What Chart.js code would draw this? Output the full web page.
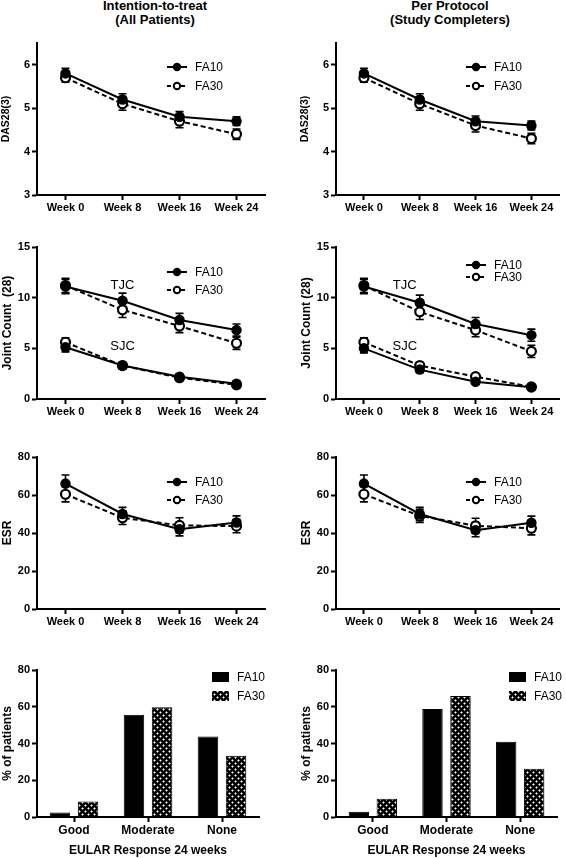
<!DOCTYPE html>
<html>
<head>
<meta charset="utf-8">
<script src="https://cdn.jsdelivr.net/npm/chart.js@4.4.0/dist/chart.umd.min.js"></script>
<style>
  body { margin: 0; background: #fff; }
  #page { position: relative; width: 566px; height: 858px; overflow: hidden; font-family: "Liberation Sans", Arial, sans-serif; }
  .head { position: absolute; width: 220px; text-align: center; font-weight: bold; font-size: 13px; line-height: 14px; top: -1px; }
  canvas { position: absolute; }
</style>
</head>
<body>
<div id="page">
  <div class="head" style="left:45px">Intention-to-treat<br>(All Patients)</div>
  <div class="head" style="left:340px">Per Protocol<br>(Study Completers)</div>
  <canvas id="dasItt" width="283" height="200" style="left:0;top:30px"></canvas>
  <canvas id="dasPp" width="283" height="200" style="left:283px;top:30px"></canvas>
  <canvas id="jointItt" width="283" height="195" style="left:0;top:230px"></canvas>
  <canvas id="jointPp" width="283" height="195" style="left:283px;top:230px"></canvas>
  <canvas id="esrItt" width="283" height="200" style="left:0;top:430px"></canvas>
  <canvas id="esrPp" width="283" height="200" style="left:283px;top:430px"></canvas>
  <canvas id="eularItt" width="283" height="228" style="left:0;top:630px"></canvas>
  <canvas id="eularPp" width="283" height="228" style="left:283px;top:630px"></canvas>
</div>
<script>
// ---- data ----
const weeks = ['Week 0', 'Week 8', 'Week 16', 'Week 24'];
const groups = ['FA10', 'FA30'];
const responses = ['Good', 'Moderate', 'None'];

const dasTicks = [3, 4, 5, 6];
const jointTicks = [0, 5, 10, 15];
const esrTicks = [0, 20, 40, 60, 80];
const pctTicks = [0, 20, 40, 60, 80];

// DAS28(3)
const dasIttFA10 = [5.8, 5.2, 4.8, 4.7];
const dasIttFA10Err = [0.12, 0.13, 0.12, 0.1];
const dasIttFA30 = [5.7, 5.1, 4.7, 4.4];
const dasIttFA30Err = [0.1, 0.15, 0.15, 0.12];
const dasPpFA10 = [5.8, 5.2, 4.7, 4.6];
const dasPpFA10Err = [0.12, 0.13, 0.12, 0.1];
const dasPpFA30 = [5.7, 5.1, 4.6, 4.3];
const dasPpFA30Err = [0.1, 0.15, 0.15, 0.12];

// Joint count (28)
const tjcIttFA10 = [11.1, 9.7, 7.8, 6.8];
const tjcIttFA30 = [11.2, 8.8, 7.2, 5.5];
const sjcIttFA10 = [5.1, 3.3, 2.2, 1.5];
const sjcIttFA30 = [5.6, 3.3, 2.1, 1.4];
const tjcPpFA10 = [11.1, 9.5, 7.4, 6.3];
const tjcPpFA30 = [11.2, 8.6, 6.8, 4.7];
const sjcPpFA10 = [5.0, 2.9, 1.7, 1.15];
const sjcPpFA30 = [5.6, 3.3, 2.2, 1.2];
const tjcErr = [0.7, 0.75, 0.65, 0.6];
const sjcErr = [0.45, 0.3, 0.25, 0.25];
const jointLabels = ['TJC', 'SJC'];
const jointLabelValues = [11.2, 5.2];

// ESR
const esrIttFA10 = [66, 50, 42, 45.5];
const esrIttFA30 = [60.4, 48, 44, 43.6];
const esrPpFA10 = [66, 50, 41.5, 45.4];
const esrPpFA30 = [60.4, 49, 43.8, 42.5];
const esrFA10Err = [4.5, 3.5, 3.5, 3.5];
const esrFA30Err = [4, 3.5, 4, 3.5];

// EULAR response at 24 weeks (% of patients)
const eularIttFA10 = [2.4, 55.6, 43.8];
const eularIttFA30 = [8.5, 59.7, 33.3];
const eularPpFA10 = [2.9, 58.8, 40.9];
const eularPpFA30 = [9.9, 65.8, 26.3];

// ---- shared ----
const FONT = '"Liberation Sans", Arial, Helvetica, sans-serif';
Chart.defaults.font.family = FONT;
Chart.defaults.color = '#000';
Chart.defaults.animation = false;

// black fill with small white dots, as in the FA30 bars
const dotPattern = (() => {
    const c = document.createElement('canvas');
    c.width = 6; c.height = 6;
    const g = c.getContext('2d');
    g.fillStyle = '#000';
    g.fillRect(0, 0, 6, 6);
    [[1, 1], [4, 4]].forEach(([x, y]) => {
        g.fillStyle = '#888';
        g.fillRect(x - 1, y, 3, 1);
        g.fillRect(x, y - 1, 1, 3);
        g.fillStyle = '#fff';
        g.fillRect(x, y, 1, 1);
    });
    return g.createPattern(c, 'repeat');
})();

// draws mean +/- error whiskers
const errorBars = {
    id: 'errorBars',
    beforeDatasetsDraw(chart) {
        const { ctx } = chart;
        const y = chart.scales.y;
        chart.data.datasets.forEach((ds, i) => {
            if (!ds.errors) return;
            const meta = chart.getDatasetMeta(i);
            ctx.save();
            ctx.strokeStyle = '#000';
            ctx.lineWidth = 1.6;
            meta.data.forEach((pt, j) => {
                const v = ds.data[j], e = ds.errors[j];
                const yt = y.getPixelForValue(v + e), yb = y.getPixelForValue(v - e);
                ctx.beginPath();
                ctx.moveTo(pt.x, yt); ctx.lineTo(pt.x, yb);
                ctx.moveTo(pt.x - 4, yt); ctx.lineTo(pt.x + 4, yt);
                ctx.moveTo(pt.x - 4, yb); ctx.lineTo(pt.x + 4, yb);
                ctx.stroke();
            });
            ctx.restore();
        });
    }
};

// legend inside plot: line + marker + label
const lineKey = {
    id: 'lineKey',
    afterDraw(chart, args, opts) {
        if (!opts.items) return;
        const { ctx, chartArea } = chart;
        opts.items.forEach((dsIndex, k) => {
            const ds = chart.data.datasets[dsIndex];
            const x = chartArea.left + opts.dx;
            const y = chartArea.top + opts.dy + k * opts.gap;
            ctx.save();
            ctx.strokeStyle = '#000';
            ctx.lineWidth = 2;
            ctx.setLineDash(ds.borderDash ? [4, 3] : []);
            ctx.beginPath();
            ctx.moveTo(x - 2, y); ctx.lineTo(x + 18, y);
            ctx.stroke();
            ctx.setLineDash([]);
            ctx.beginPath();
            ctx.arc(x + 8, y, 3.2, 0, Math.PI * 2);
            ctx.fillStyle = ds.pointBackgroundColor;
            ctx.fill();
            ctx.stroke();
            ctx.fillStyle = '#000';
            ctx.font = '12px ' + FONT;
            ctx.textBaseline = 'middle';
            ctx.fillText(ds.label, x + 26, y + 0.5);
            ctx.restore();
        });
    }
};

// legend inside plot: filled box + label
const boxKey = {
    id: 'boxKey',
    afterDraw(chart, args, opts) {
        if (opts.dx === undefined) return;
        const { ctx, chartArea } = chart;
        chart.data.datasets.forEach((ds, k) => {
            const x = chartArea.left + opts.dx;
            const y = chartArea.top + opts.dy + k * opts.gap;
            ctx.save();
            ctx.fillStyle = ds.backgroundColor;
            ctx.fillRect(x, y, 17, 10);
            ctx.fillStyle = '#000';
            ctx.font = '12px ' + FONT;
            ctx.textBaseline = 'middle';
            ctx.fillText(ds.label, x + 25, y + 5.5);
            ctx.restore();
        });
    }
};

// curve names (TJC / SJC)
const curveNames = {
    id: 'curveNames',
    afterDatasetsDraw(chart, args, opts) {
        if (!opts.texts) return;
        const { ctx } = chart;
        const x = chart.scales.x.getPixelForValue(opts.index) + opts.dx;
        ctx.save();
        ctx.fillStyle = '#000';
        ctx.font = '13px ' + FONT;
        ctx.textAlign = 'center';
        ctx.textBaseline = 'middle';
        opts.texts.forEach((t, k) => {
            ctx.fillText(t, x, chart.scales.y.getPixelForValue(opts.values[k]));
        });
        ctx.restore();
    }
};

const axisGrid = { display: true, drawOnChartArea: false, drawTicks: true, tickLength: 5, tickWidth: 2, tickColor: '#000', offset: false };
const axisBorder = { display: true, color: '#000', width: 2 };

const yScale = (ticks, min, max, title, titleSize) => ({
    type: 'linear',
    min, max,
    afterBuildTicks: s => { s.ticks = ticks.map(v => ({ value: v })); },
    afterFit: s => { s.width = 37; },
    border: axisBorder,
    grid: axisGrid,
    ticks: { font: { size: 11, weight: 'bold' }, padding: 2, color: '#000' },
    title: { display: true, text: title, font: { size: titleSize, weight: 'bold' }, padding: 0, color: '#000' }
});

const xScale = (height, fontSize) => ({
    type: 'category',
    offset: true,
    afterFit: s => { s.height = height; },
    border: axisBorder,
    grid: axisGrid,
    ticks: { font: { size: fontSize, weight: 'bold' }, padding: 1, maxRotation: 0, autoSkip: false, color: '#000' }
});

const fa10Line = (label, data, errors) => ({
    label, data, errors,
    borderColor: '#000', borderWidth: 2,
    pointRadius: 4.5, pointBackgroundColor: '#000', pointBorderColor: '#000', pointBorderWidth: 1.5
});
const fa30Line = (label, data, errors) => ({
    label, data, errors,
    borderColor: '#000', borderWidth: 2, borderDash: [5, 3],
    pointRadius: 4.5, pointBackgroundColor: '#fff', pointBorderColor: '#000', pointBorderWidth: 2.2
});

const lineChart = (id, cfg) => new Chart(document.getElementById(id), {
    type: 'line',
    data: { labels: weeks, datasets: cfg.datasets },
    plugins: [errorBars, lineKey, curveNames],
    options: {
        responsive: false,
        layout: { padding: { top: cfg.padTop, left: cfg.padLeft, right: cfg.padRight, bottom: 0 } },
        plugins: {
            legend: { display: false },
            tooltip: { enabled: false },
            lineKey: cfg.key,
            curveNames: cfg.names || {}
        },
        scales: {
            x: xScale(cfg.xHeight, 11),
            y: yScale(cfg.ticks, cfg.min, cfg.max, cfg.title, cfg.titleSize)
        }
    }
});

const barChart = (id, fa10, fa30, cfg) => new Chart(document.getElementById(id), {
    type: 'bar',
    data: {
        labels: responses,
        datasets: [
            { label: groups[0], data: fa10, backgroundColor: '#000', borderColor: '#000', borderWidth: 1 },
            { label: groups[1], data: fa30, backgroundColor: dotPattern, borderColor: '#000', borderWidth: 1 }
        ]
    },
    plugins: [boxKey],
    options: {
        responsive: false,
        categoryPercentage: 0.76,
        barPercentage: 0.73,
        layout: { padding: { top: 40, left: cfg.padLeft, right: cfg.padRight, bottom: 0 } },
        plugins: {
            legend: { display: false },
            tooltip: { enabled: false },
            boxKey: { dx: cfg.keyDx, dy: 2, gap: 19 }
        },
        scales: {
            x: {
                ...xScale(41, 12),
                title: { display: true, text: 'EULAR Response 24 weeks', font: { size: 12, weight: 'bold' }, padding: 0, color: '#000' }
            },
            y: yScale(pctTicks, 0, 80, '% of patients', 12)
        }
    }
});

// ---- DAS28 ----
const dasKey = { items: [0, 1], dx: 132, dy: 24, gap: 19 };
lineChart('dasItt', {
    datasets: [fa10Line(groups[0], dasIttFA10, dasIttFA10Err), fa30Line(groups[1], dasIttFA30, dasIttFA30Err)],
    ticks: dasTicks, min: 3, max: 6.5, title: 'DAS28(3)', titleSize: 10.5,
    padTop: 13, padLeft: 0, padRight: 18, xHeight: 35, key: dasKey
});
lineChart('dasPp', {
    datasets: [fa10Line(groups[0], dasPpFA10, dasPpFA10Err), fa30Line(groups[1], dasPpFA30, dasPpFA30Err)],
    ticks: dasTicks, min: 3, max: 6.5, title: 'DAS28(3)', titleSize: 10.5,
    padTop: 13, padLeft: 16, padRight: 0, xHeight: 35, key: dasKey
});

// ---- Joint counts ----
lineChart('jointItt', {
    datasets: [
        fa10Line(groups[0], tjcIttFA10, tjcErr), fa30Line(groups[1], tjcIttFA30, tjcErr),
        fa10Line(groups[0], sjcIttFA10, sjcErr), fa30Line(groups[1], sjcIttFA30, sjcErr)
    ],
    ticks: jointTicks, min: 0, max: 15, title: 'Joint Count  (28)', titleSize: 12,
    padTop: 17, padLeft: 0, padRight: 18, xHeight: 26,
    key: { items: [0, 1], dx: 132, dy: 25, gap: 18 },
    names: { texts: jointLabels, values: jointLabelValues, index: 1, dx: 0 }
});
lineChart('jointPp', {
    datasets: [
        fa10Line(groups[0], tjcPpFA10, tjcErr), fa30Line(groups[1], tjcPpFA30, tjcErr),
        fa10Line(groups[0], sjcPpFA10, sjcErr), fa30Line(groups[1], sjcPpFA30, sjcErr)
    ],
    ticks: jointTicks, min: 0, max: 15, title: 'Joint Count (28)', titleSize: 12,
    padTop: 17, padLeft: 16, padRight: 0, xHeight: 26,
    key: { items: [0, 1], dx: 132, dy: 18, gap: 12 },
    names: { texts: jointLabels, values: jointLabelValues, index: 1, dx: -15 }
});

// ---- ESR ----
const esrKey = { items: [0, 1], dx: 132, dy: 25, gap: 18 };
lineChart('esrItt', {
    datasets: [fa10Line(groups[0], esrIttFA10, esrFA10Err), fa30Line(groups[1], esrIttFA30, esrFA30Err)],
    ticks: esrTicks, min: 0, max: 80, title: 'ESR', titleSize: 12,
    padTop: 27, padLeft: 0, padRight: 18, xHeight: 21, key: esrKey
});
lineChart('esrPp', {
    datasets: [fa10Line(groups[0], esrPpFA10, esrFA10Err), fa30Line(groups[1], esrPpFA30, esrFA30Err)],
    ticks: esrTicks, min: 0, max: 80, title: 'ESR', titleSize: 12,
    padTop: 27, padLeft: 16, padRight: 0, xHeight: 21, key: esrKey
});

// ---- EULAR response ----
barChart('eularItt', eularIttFA10, eularIttFA30, { padLeft: 0, padRight: 24, keyDx: 175 });
barChart('eularPp', eularPpFA10, eularPpFA30, { padLeft: 16, padRight: 9, keyDx: 173 });
</script>
</body>
</html>
